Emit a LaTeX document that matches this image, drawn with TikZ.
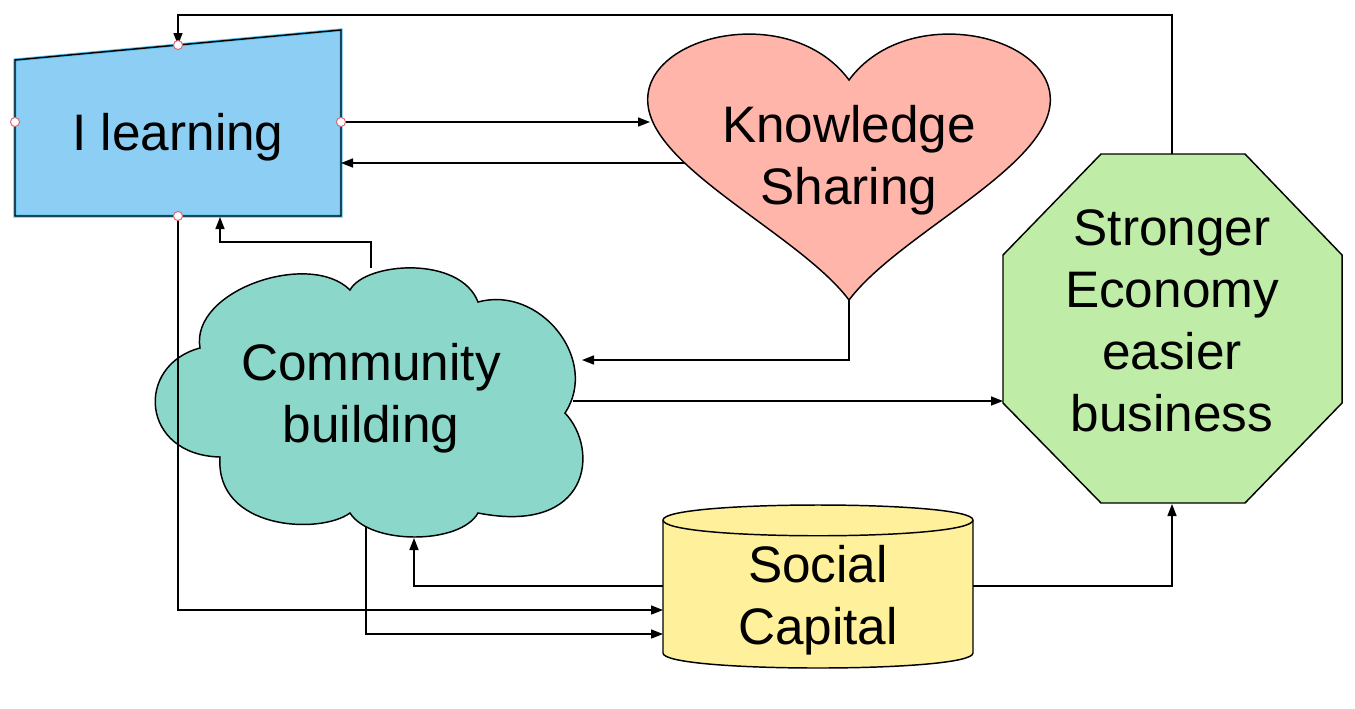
\documentclass[tikz,border=0pt]{standalone}
\usepackage{fontspec}
\setmainfont{Liberation Sans}
\usetikzlibrary{arrows.meta}
\definecolor{learnblue}{HTML}{8DCFF4}
\definecolor{learnedge}{HTML}{5BC3F0}
\definecolor{sharerose}{HTML}{FFB5A9}
\definecolor{econgreen}{HTML}{BFECA6}
\definecolor{commteal}{HTML}{8BD8CB}
\definecolor{capyellow}{HTML}{FFF09B}
\definecolor{handlered}{HTML}{E0606E}
\tikzset{
  flow/.style={draw=black, line width=1pt, -{Triangle[length=9pt,width=6.8pt]}},
  outline/.style={draw=black, line width=1.1pt},
  label/.style={font=\fontsize{38.5}{46.5}\selectfont, align=center},
  handle/.style={circle, draw=handlered, fill=white, line width=0.7pt, inner sep=0pt, minimum size=6.8pt},
}
\begin{document}
\begin{tikzpicture}[x=0.75pt,y=0.75pt,yscale=-1]
\useasboundingbox (0,0) rectangle (1355,708);

%Shape: Manual Input
\fill[learnblue] (15,60) -- (341,30) -- (341,216) -- (15,216) -- cycle;
\draw[learnedge, line width=2.4pt] (15,60) -- (341,30) -- (341,216) -- (15,216) -- cycle;
\draw[outline] (15,60) -- (341,30) -- (341,216) -- (15,216) -- cycle;

%Shape: Heart
\draw[outline, fill=sharerose] (849,300) .. controls (800,235) and (655,170) .. (648,105) .. controls (640,35) and (790,0) .. (849,80) .. controls (908,0) and (1058,35) .. (1050,105) .. controls (1043,170) and (898,235) .. (849,300) -- cycle;

%Shape: Octagon
\draw[outline, fill=econgreen] (1101,154) -- (1245,154) -- (1342,255) -- (1342,403) -- (1245,503) -- (1101,503) -- (1003,403) -- (1003,255) -- cycle;

%Shape: Cloud
\draw[outline, fill=commteal] (200,348) .. controls (190,290) and (310,250) .. (350,290) .. controls (365,262) and (460,255) .. (478,302) .. controls (540,285) and (600,360) .. (565,413) .. controls (600,450) and (590,535) .. (478,513) .. controls (460,545) and (370,545) .. (350,513) .. controls (320,535) and (215,530) .. (220,457) .. controls (140,455) and (135,365) .. (200,348) -- cycle;

%Shape: Can
\draw[outline, fill=capyellow] (663,520) -- (663,653) .. controls (663,673) and (973,673) .. (973,653) -- (973,520) .. controls (973,500) and (663,500) .. (663,520) -- cycle;
\draw[outline] (663,520) .. controls (663,541) and (973,541) .. (973,520);

% Text Node
\node[label] (learn) at (178,137) {I learning};
% Text Node
\node[label] (share) at (849,160) {Knowledge\\Sharing};
% Text Node
\node[label] (econ) at (1172,321) {Stronger\\Economy\\easier\\business};
% Text Node
\node[label] (comm) at (371,398) {Community\\building};
% Text Node
\node[label] (cap) at (818,600) {Social\\Capital};

%connection points
\coordinate (learn-n) at (178,45);
\coordinate (learn-e) at (341,122);
\coordinate (learn-se) at (341,163);
\coordinate (learn-s) at (178,216);
\coordinate (learn-s2) at (220,217);
\coordinate (share-w) at (650,122);
\coordinate (share-sw) at (685,163);
\coordinate (share-s) at (849,300);
\coordinate (econ-n) at (1172,154);
\coordinate (econ-w) at (1003,401);
\coordinate (econ-s) at (1172,504);
\coordinate (comm-n) at (371,268);
\coordinate (comm-ne) at (582,360);
\coordinate (comm-e) at (573,401);
\coordinate (comm-s) at (366,527);
\coordinate (comm-s2) at (414,538);
\coordinate (cap-w) at (663,586);
\coordinate (cap-w1) at (663,610);
\coordinate (cap-w2) at (663,634);
\coordinate (cap-e) at (973,586);

%Connectors
\draw[flow] (learn-e) -- (share-w);
\draw[flow] (share-sw) -- (learn-se);
\draw[flow] (share-s) |- (comm-ne);
\draw[flow] (comm-n) -- ++(0,-26) -| (learn-s2);
\draw[flow] (econ-n) -- ++(0,-139) -| (learn-n);
\draw[flow] (comm-e) -- (econ-w);
\draw[flow] (learn-s) |- (cap-w1);
\draw[flow] (comm-s) |- (cap-w2);
\draw[flow] (cap-w) -| (comm-s2);
\draw[flow] (cap-e) -| (econ-s);

%selection handles
\node[handle] (h1) at (learn-n) {};
\node[handle] (h2) at (15,122) {};
\node[handle] (h3) at (learn-e) {};
\node[handle] (h4) at (learn-s) {};

\end{tikzpicture}
\end{document}
